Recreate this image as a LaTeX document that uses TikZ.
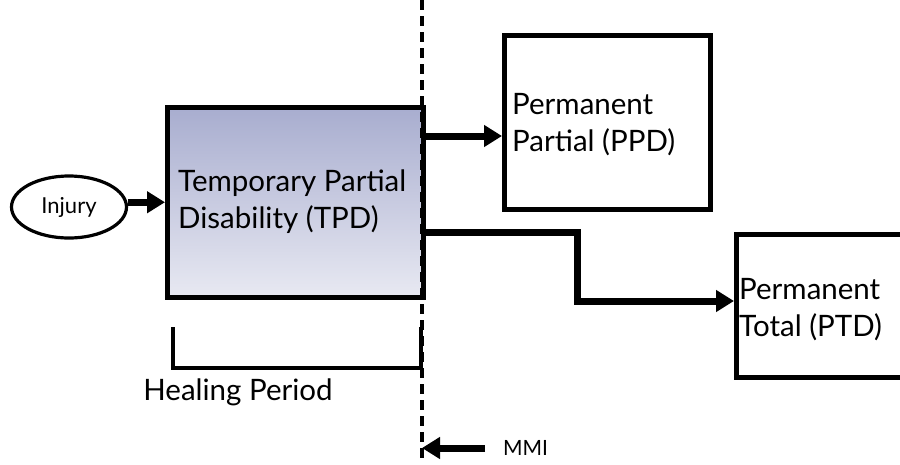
\documentclass[tikz,border=0pt]{standalone}
\usepackage{fontspec}
\setmainfont{Lato}
\usetikzlibrary{arrows.meta,shapes.geometric}
\definecolor{shadetop}{RGB}{168,173,207}
\definecolor{shadebot}{RGB}{232,233,242}
\begin{document}
\begin{tikzpicture}[x=1pt,y=-1pt,
  box/.style={draw=black,line width=4.5pt,rectangle,inner sep=0pt},
  lbl/.style={font=\fontsize{29.5}{37}\selectfont,align=left,inner sep=0pt,anchor=west},
  arr/.style={line width=7pt,-{Triangle[length=18pt,width=21pt]}},
  mmiline/.style={line width=3.2pt,dash pattern=on 10pt off 6pt},
  bracket/.style={line width=4.5pt,line cap=rect}]
\useasboundingbox (0,0) rectangle (900,464);
\clip (0,0) rectangle (900,464);
\fill[white] (0,0) rectangle (900,464);

% nodes
\node[draw=black,line width=3.2pt,ellipse,minimum width=115pt,minimum height=62pt,
      inner sep=0pt,font=\fontsize{22}{26}\selectfont] (inj) at (69,207) {Injury};
\node[box,top color=shadetop,bottom color=shadebot,minimum width=256pt,minimum height=190pt,
      anchor=north west] (tpd) at (165,105) {};
\node[lbl] (tpdtext) at (178,202) {Temporary Partial\\Disability (TPD)};
\node[box,fill=white,minimum width=206pt,minimum height=174pt,anchor=north west] (ppd) at (502,33) {};
\node[lbl] (ppdtext) at (512,125) {Permanent\\Partial (PPD)};
\node[box,fill=white,minimum width=200pt,minimum height=143pt,anchor=north west] (ptd) at (734,232) {};
\node[lbl] (ptdtext) at (739,310) {Permanent\\Total (PTD)};

% MMI boundary
\coordinate (mmitop) at (422,0);
\coordinate (mmibot) at (422,464);
\draw[mmiline] (mmitop) -- (mmibot);

% connectors
\draw[arr] (inj.east |- tpd.west) -- (tpd.west);
\draw[arr] (tpd.east |- 0,136) -- (ppd.west |- 0,136);
\draw[arr,line join=miter] (tpd.east |- 0,232) -- (577,232) |- (ptd.west |- 0,301);

% healing period bracket
\coordinate (bl) at (173,329);
\coordinate (br) at (421,329);
\draw[bracket] (bl) -- (bl |- 0,368) -- (br |- 0,368) -- (br);
\node[font=\fontsize{29.5}{34}\selectfont,inner sep=0pt] (heal) at (238,392) {Healing Period};

% MMI marker
\node[font=\fontsize{21}{25}\selectfont,inner sep=0pt,anchor=west] (mmi) at (503,448) {MMI};
\draw[arr] (485,448) -- (mmibot |- 0,448);
\end{tikzpicture}
\end{document}
